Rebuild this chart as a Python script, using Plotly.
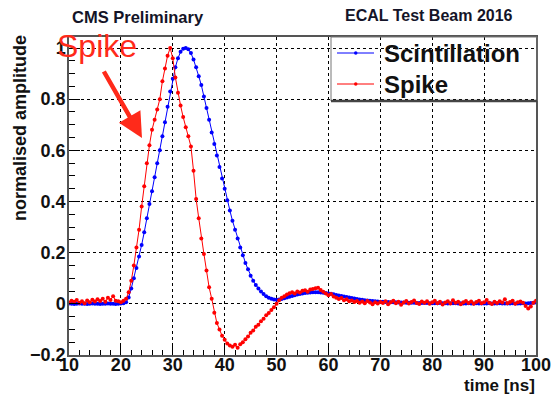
import plotly.graph_objects as go

# ---------------- data ----------------
time_ns = [10 + 0.5 * i for i in range(181)]

scintillation = [
    0.001, 0.0, -0.001, 0.0, 0.001, 0.0, 0.0, -0.001, 0.0, 0.001,
    0.0, 0.0, -0.001, 0.0, 0.0, 0.001, 0.0, 0.0, -0.001, 0.0,
    0.001, 0.002,
    0.006, 0.025, 0.06, 0.10, 0.14, 0.185, 0.23, 0.28, 0.335, 0.39,
    0.44, 0.495, 0.55, 0.60, 0.655, 0.71, 0.77, 0.83, 0.88, 0.925,
    0.96, 0.985, 0.997, 1.0, 0.995, 0.98, 0.955, 0.925, 0.89, 0.855,
    0.81, 0.765, 0.72, 0.67, 0.625, 0.58, 0.535, 0.49, 0.45, 0.405,
    0.365, 0.325, 0.29, 0.255, 0.22, 0.19, 0.16, 0.135, 0.11, 0.09,
    0.074, 0.06, 0.048, 0.038, 0.03, 0.024, 0.02, 0.017, 0.016, 0.017,
    0.019, 0.022, 0.025, 0.028, 0.031, 0.034, 0.036, 0.038, 0.04, 0.042,
    0.043, 0.044, 0.045, 0.045, 0.045, 0.044, 0.043, 0.042, 0.04, 0.039,
    0.037, 0.035, 0.033, 0.031, 0.029, 0.027, 0.025, 0.023, 0.021, 0.019,
    0.017, 0.016, 0.014, 0.013, 0.012, 0.011, 0.01, 0.009, 0.008,
    0.008, 0.007, 0.007, 0.006, 0.006, 0.006, 0.005, 0.005, 0.005, 0.004,
    0.004, 0.004, 0.004, 0.003, 0.003, 0.003, 0.003, 0.003, 0.002, 0.002,
    0.002, 0.002, 0.003, 0.002, 0.002, 0.001, 0.002, 0.002, 0.002, 0.001,
    0.002, 0.001, 0.001, 0.002, 0.001, 0.001, 0.002, 0.001, 0.001, 0.001,
    0.001, 0.002, 0.001, 0.001, 0.001, 0.002, 0.001, 0.001, 0.001, 0.001,
    0.002, 0.001, 0.001, 0.001, 0.002, 0.001, 0.002, 0.003, 0.004, 0.005,
]

spike = [
    0.005, 0.012, 0.008, 0.015, 0.004, 0.010, 0.002, 0.013, 0.006, 0.016,
    0.009, 0.018, 0.011, 0.020, 0.008, 0.024, 0.015, 0.030, 0.012, 0.010,
    0.006, 0.012,
    0.02, 0.045, 0.09, 0.15, 0.22, 0.29, 0.38, 0.46, 0.55, 0.62,
    0.68, 0.72, 0.76, 0.80, 0.87, 0.92, 0.97, 1.0, 0.96, 0.885,
    0.825, 0.775, 0.73, 0.69, 0.655, 0.615, 0.52, 0.41, 0.335, 0.255,
    0.195, 0.13, 0.065, 0.02, -0.035, -0.075, -0.10, -0.125, -0.14, -0.155,
    -0.163, -0.168, -0.16, -0.172, -0.158, -0.15, -0.138, -0.128, -0.113, -0.104,
    -0.09, -0.082, -0.068, -0.058, -0.045, -0.036, -0.024, -0.013, 0.0, 0.014,
    0.024, 0.03, 0.036, 0.041, 0.045, 0.04, 0.048, 0.044, 0.051, 0.053,
    0.047, 0.056, 0.058, 0.061, 0.063, 0.054, 0.047, 0.04, 0.034, 0.038,
    0.029, 0.024, 0.019, 0.023, 0.014, 0.018, 0.01, 0.013, 0.007, 0.011,
    0.004, 0.009, 0.002, 0.011, 0.005, -0.002, 0.006, 0.001, 0.007,
    0.003, 0.010, -0.002, 0.006, 0.012, 0.002, 0.008, -0.004, 0.005, 0.011,
    0.001, 0.007, 0.013, 0.003, -0.001, 0.009, 0.004, 0.010, 0.000, 0.006,
    0.012, 0.002, 0.008, -0.003, 0.005, 0.010, 0.001, 0.014, 0.004, 0.008,
    -0.002, 0.006, 0.011, 0.003, 0.009, 0.000, 0.007, 0.012, 0.002, 0.006,
    0.015, 0.004, -0.001, 0.008, 0.003, 0.010, 0.005, 0.018, 0.002, 0.007,
    0.012, 0.000, 0.006, 0.009, 0.004, -0.008, -0.018, -0.010, 0.004, 0.012,
]

assert len(scintillation) == len(time_ns), len(scintillation)
assert len(spike) == len(time_ns), len(spike)

series_names = ["Scintillation", "Spike"]
x_range = [10, 100]
y_range = [-0.2, 1.043]

# ---------------- layout helpers ----------------
W, H = 553, 394
L, R, T, B = 69, 17, 37, 39
PW, PH = W - L - R, H - T - B


def px(xp):
    return (xp - L) / PW


def py(yp):
    return (H - B - yp) / PH


BLUE = "#0000ff"
RED = "#ff0000"
ANN_RED = "#ff2a1a"
FONT = "Liberation Sans, Arial, Helvetica, sans-serif"
colors = [BLUE, RED]

fig = go.Figure()
for name, vals, col in zip(series_names, [scintillation, spike], colors):
    fig.add_trace(go.Scatter(
        x=time_ns, y=vals, name=name, mode="lines+markers", showlegend=False,
        line=dict(color=col, width=1), marker=dict(color=col, size=4, symbol="circle"),
    ))

axis_common = dict(
    showgrid=True, gridcolor="black", griddash="dot", gridwidth=1,
    showline=True, linecolor="#555555", linewidth=1.5, mirror=True,
    zeroline=False, ticks="inside", tickcolor="black", tickwidth=1,
    automargin=False,
    tickfont=dict(family=FONT, size=18, color="#111111", weight="bold"),
)

fig.update_xaxes(range=x_range, tick0=0, dtick=10, ticklen=9, ticklabelstandoff=-7,
                 minor=dict(dtick=2, ticklen=5, ticks="inside", tickcolor="black", showgrid=False),
                 **axis_common)
fig.update_yaxes(range=y_range, tick0=0, dtick=0.2, ticklen=11, ticklabelstandoff=-2,
                 minor=dict(dtick=0.05, ticklen=6, ticks="inside", tickcolor="black", showgrid=False),
                 **axis_common)

annotations = [
    dict(text="CMS Preliminary", x=px(70), y=py(17), xanchor="left", yanchor="middle",
         font=dict(family=FONT, size=16.5, color="#141428", weight="bold")),
    dict(text="ECAL Test Beam 2016", x=px(343), y=py(16), xanchor="left", yanchor="middle",
         font=dict(family=FONT, size=16, color="#141428", weight="bold")),
    dict(text="Spike", x=px(97), y=py(46), xanchor="center", yanchor="middle",
         font=dict(family=FONT, size=32, color=ANN_RED)),
    dict(text="", x=px(142), y=py(138), ax=-39, ay=-68, showarrow=True,
         arrowhead=2, arrowsize=1.1, arrowwidth=4.5, arrowcolor=ANN_RED),
    dict(text="normalised amplitude", x=px(20), y=py(128), textangle=-90,
         xanchor="center", yanchor="middle",
         font=dict(family=FONT, size=18, color="#111111", weight="bold")),
    dict(text="time [ns]", x=px(537), y=py(385), xanchor="right", yanchor="middle",
         font=dict(family=FONT, size=17, color="#111111", weight="bold")),
]

# legend drawn by hand (box, line samples, markers, labels)
legend_rows_y = [53, 84]
shapes = [
    dict(type="rect", x0=px(331), x1=px(537), y0=py(101), y1=py(37),
         line=dict(color="#777777", width=1)),
    dict(type="line", x0=px(331), x1=px(537), y0=py(101), y1=py(101),
         line=dict(color="#444444", width=2.5)),
]
for name, col, ry in zip(series_names, colors, legend_rows_y):
    shapes.append(dict(type="line", x0=px(337), x1=px(374), y0=py(ry), y1=py(ry),
                       line=dict(color=col, width=1)))
    shapes.append(dict(type="circle", x0=px(354), x1=px(357.5), y0=py(ry + 1.75), y1=py(ry - 1.75),
                       fillcolor=col, line=dict(color=col, width=0)))
    annotations.append(dict(text=name, x=px(382), y=py(ry), xanchor="left", yanchor="middle",
                            font=dict(family=FONT, size=24, color="#111111", weight="bold")))

for a in annotations:
    a.setdefault("showarrow", False)
    a["xref"] = "paper"
    a["yref"] = "paper"
for s in shapes:
    s["xref"] = "paper"
    s["yref"] = "paper"

fig.update_layout(
    width=W, height=H,
    margin=dict(l=L, r=R, t=T, b=B, autoexpand=False),
    paper_bgcolor="white", plot_bgcolor="white",
    annotations=annotations, shapes=shapes,
    showlegend=False,
)

fig.write_html("out.html")
